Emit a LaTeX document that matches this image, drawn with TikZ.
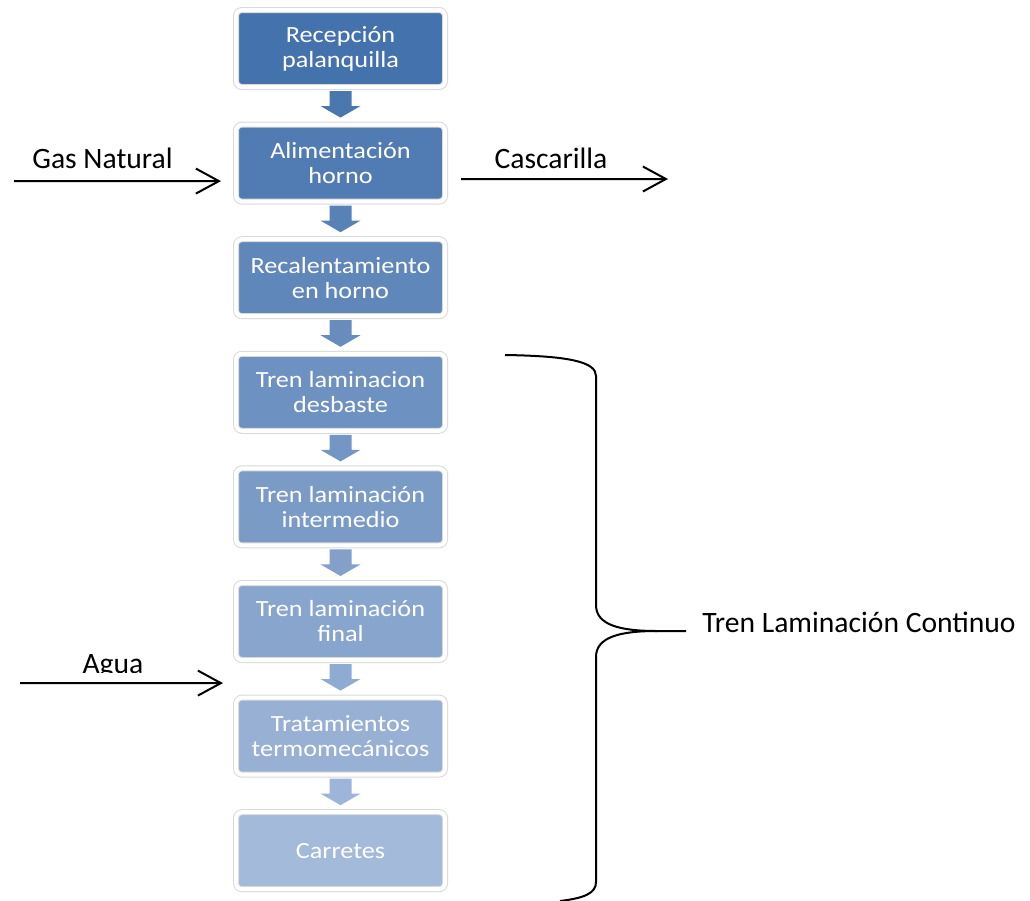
\documentclass[tikz,border=0pt]{standalone}
\usepackage{fontspec}
\setmainfont{Carlito}
\newfontfamily\boxfont[FakeStretch=1.13]{Carlito}
\usetikzlibrary{positioning, arrows.meta, calc}
\definecolor{azulA}{RGB}{68,114,172}
\definecolor{azulB}{RGB}{164,186,219}

\begin{document}
\begin{tikzpicture}[
  x=0.5pt, y=-0.5pt,
  >={Straight Barb[length=11.5pt, width=12.5pt]},
  proc/.style={draw=black!15, double=white, double distance=2pt, line width=0.5pt,
               rounded corners=3pt, minimum width=104.5pt, minimum height=38.5pt,
               inner sep=2pt, outer sep=0pt, align=center, text=white,
               font=\boxfont\fontsize{11.6}{12.5}\selectfont},
  flow/.style={->, line width=1pt},
  lbl/.style={font=\fontsize{14.8}{17}\selectfont, anchor=base, inner sep=0pt},
  node distance=18.8pt
]
  \useasboundingbox (0,0) rectangle (1030,901);

  % process chain
  \node[proc, fill=azulA]            (recep) at (340.5,48.5) {Recepción\\palanquilla};
  \node[proc, fill=azulB!14!azulA, below=of recep] (alim)  {Alimentación\\horno};
  \node[proc, fill=azulB!29!azulA, below=of alim]  (recal) {Recalentamiento\\en horno};
  \node[proc, fill=azulB!43!azulA, below=of recal] (desb)  {Tren laminacion\\desbaste};
  \node[proc, fill=azulB!57!azulA, below=of desb]  (inter) {Tren laminación\\intermedio};
  \node[proc, fill=azulB!71!azulA, below=of inter] (final) {Tren laminación\\final};
  \node[proc, fill=azulB!86!azulA, below=of final] (trat)  {Tratamientos\\termomecánicos};
  \node[proc, fill=azulB,          below=of trat]  (carr)  {Carretes};

  % block arrows between steps
  \foreach \a/\b/\p in {recep/alim/7, alim/recal/21, recal/desb/36, desb/inter/50,
                        inter/final/64, final/trat/79, trat/carr/93}
    \fill[azulB!\p!azulA] ($(\a.south)+(-11,4)$) -- ++(22,0) -- ++(0,15) -- ++(9,0)
      -- ($(\b.north)+(0,-7)$) -- ($(\a.south)+(-20,19)$) -- ++(9,0) -- cycle;

  % inputs and outputs
  \coordinate (gasIn)  at (14,181);
  \coordinate (casOut) at (668,179);
  \coordinate (aguaIn) at (20,683);
  \draw[flow] (gasIn) -- ($(alim.west)+(-15,18)$);
  \draw[flow] ($(alim.east)+(16,16)$) -- (casOut);
  \draw[flow] (aguaIn) -- ($(trat.west)+(-13,-53)$);

  \node[lbl] (gas) at (102.5,168) {Gas Natural};
  \node[lbl] (cas) at (551,168) {Cascarilla};
  \begin{scope}
    \clip (60,640) rectangle (170,672);
    \node[lbl] (agua) at (113,673) {Agua};
  \end{scope}

  % brace over the continuous mill
  \draw[line width=1pt] (505,355) .. controls (570,356) and (596,362) .. (596,376)
    -- (596,605) .. controls (596,625) and (620,631) .. (657,631) -- (686,631);
  \draw[line width=1pt] (657,631) .. controls (620,631) and (596,637) .. (596,657)
    -- (596,882) .. controls (596,893) and (585,898) .. (560,901);
  \node[lbl, anchor=base west] (tren) at (702,632) {Tren Laminación Continuo};
\end{tikzpicture}
\end{document}
